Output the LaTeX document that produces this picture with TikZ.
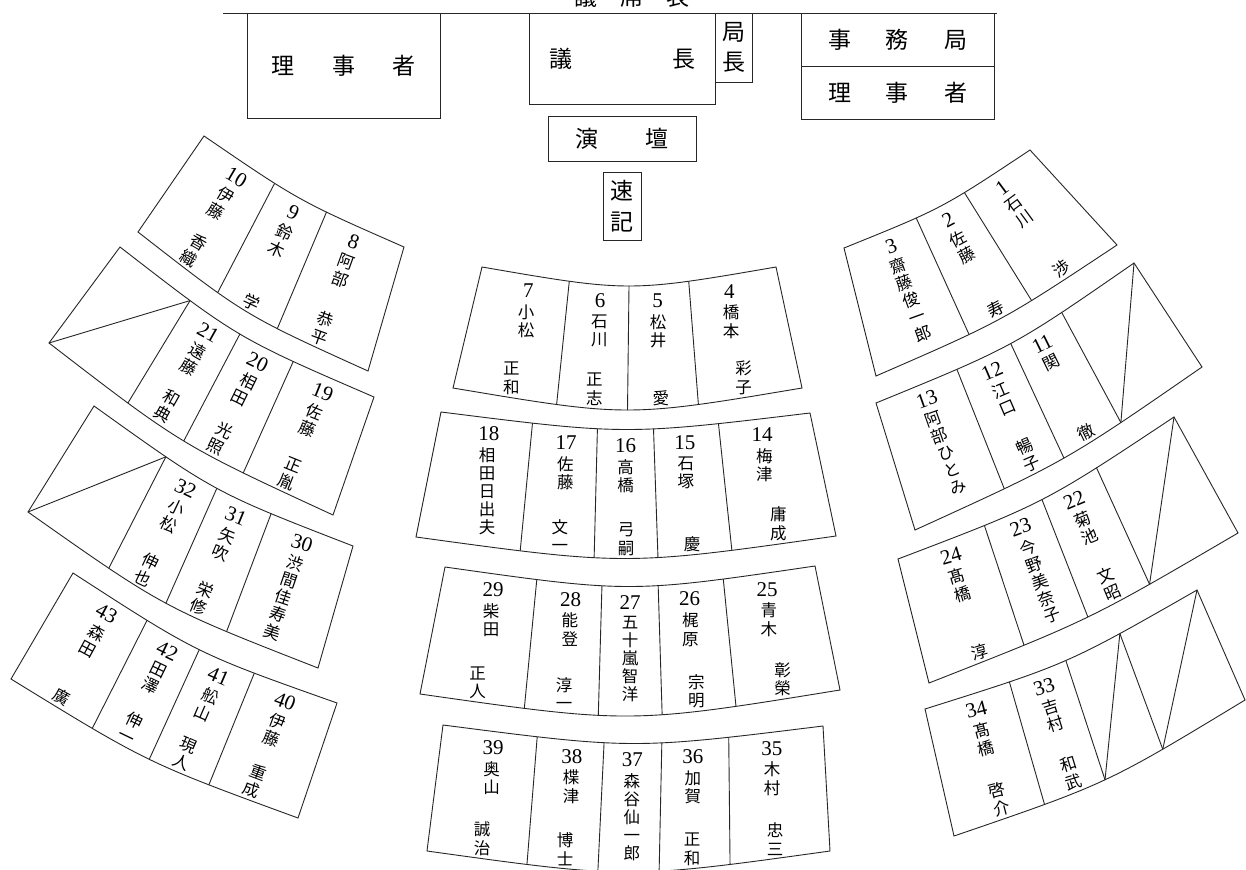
\documentclass[tikz,border=0pt]{standalone}
\usepackage{fontspec}
\newfontfamily\jpfont{Noto Sans CJK JP}
\newfontfamily\numfont{Liberation Serif}
\usetikzlibrary{calc}

\newlength\seatpitch
\setlength\seatpitch{18.5pt}
\def\vstA#1#2\endvst{\hbox to 18pt{\hss#1\hss}\ifx\relax#2\relax\else\vstA#2\endvst\fi}
\newcommand\vst[1]{\vbox{\baselineskip=\seatpitch\lineskiplimit=-100pt\lineskip=0pt\vstA#1\endvst}}

\def\rotfac{1}
\def\numd{16pt}
\def\surd{29.5pt}
\def\givd{3pt}

\tikzset{
  seatline/.style={line width=0.9pt, draw=black!85},
  numtext/.style={inner sep=0pt, font=\numfont\fontsize{21}{21}\selectfont},
  nametext/.style={inner sep=0pt, font=\jpfont\fontsize{16.5}{18}\selectfont},
  hdrbox/.style={draw=black!85, line width=0.9pt, inner sep=0pt, font=\jpfont\fontsize{23}{23}\selectfont},
}

% #1 name, #2 outer-left, #3 outer-right, #4 inner-right, #5 inner-left, #6 outer sag, #7 inner sag, #8 cells
\newcommand\blockrow[8]{%
  \coordinate (#1ol) at #2;
  \coordinate (#1or) at #3;
  \coordinate (#1ir) at #4;
  \coordinate (#1il) at #5;
  \coordinate (#1co) at ($(#1ol)!.5!(#1or)!{1.3333*#6}!-90:(#1or)$);
  \coordinate (#1ci) at ($(#1il)!.5!(#1ir)!{1.3333*#7}!-90:(#1ir)$);
  \draw[seatline] (#1ol) .. controls (#1co) .. (#1or) -- (#1ir) .. controls (#1ci) .. (#1il) -- cycle;
  \foreach \k in {0,...,#8} {
    \pgfmathsetmacro\tpos{\k/#8}
    \path (#1ol) .. controls (#1co) .. (#1or) coordinate[pos=\tpos] (#1o\k);
    \path (#1il) .. controls (#1ci) .. (#1ir) coordinate[pos=\tpos] (#1i\k);
  }
  \foreach \k in {1,...,#8} {
    \pgfmathsetmacro\tpos{(\k-0.5)/#8}
    \path (#1ol) .. controls (#1co) .. (#1or) coordinate[pos=\tpos] (#1T\k);
    \path (#1il) .. controls (#1ci) .. (#1ir) coordinate[pos=\tpos] (#1B\k);
  }
  \pgfmathtruncatemacro\nm{#8-1}
  \foreach \k in {1,...,\nm} { \draw[seatline] (#1o\k) -- (#1i\k); }
}

% block, cell, number, surname, given name
\newcommand\seatname[5]{%
  \path let \p1=($(#1T#2)-(#1B#2)$), \n1={(atan2(\y1,\x1)-90)*\rotfac} in
    node[numtext, rotate=\n1] (n#3) at ($(#1T#2)!\numd!(#1B#2)$) {#3}
    node[nametext, rotate=\n1, anchor=north] (sn#3) at ($(#1T#2)!\surd!(#1B#2)$) {\vst{#4}}
    node[nametext, rotate=\n1, anchor=south] (gn#3) at ($(#1B#2)!\givd!(#1T#2)$) {\vst{#5}};
}
% block, cell, number, full name
\newcommand\seatfull[4]{%
  \path let \p1=($(#1T#2)-(#1B#2)$), \n1={(atan2(\y1,\x1)-90)*\rotfac} in
    node[numtext, rotate=\n1] (n#3) at ($(#1T#2)!\numd!(#1B#2)$) {#3}
    node[nametext, rotate=\n1, anchor=north] (sn#3) at ($(#1T#2)!\surd!(#1B#2)$) {\setlength\seatpitch{18pt}\vst{#4}};
}
\newcommand\blankcell[2]{%
  \pgfmathtruncatemacro\km{#2-1}
  \draw[seatline] (#1o#2) -- (#1i\km);
}

\begin{document}
\begin{tikzpicture}[x=1pt, y=-1pt]
\useasboundingbox[fill=white] (0,0) rectangle (1246,869);

% header
\node[font=\jpfont\fontsize{23}{23}\selectfont, anchor=base, inner sep=0pt] (title) at (632,6) {議\hspace{23pt}席\hspace{23pt}表};
\coordinate (hl1) at (223,13);
\coordinate (hl2) at (997,13);
\draw[seatline] (hl1) -- (hl2);

\node[hdrbox, minimum width=193pt, minimum height=105pt] (rijiL) at (343.5,65.5) {理\hspace{38pt}事\hspace{38pt}者};
\node[hdrbox, minimum width=186pt, minimum height=91pt] (gicho) at (622,58.5) {議\hspace{100pt}長};
\node[hdrbox, minimum width=37pt, minimum height=69pt] (kyoku) at (733.5,47.5) {\setlength\seatpitch{30pt}\vst{局長}};
\node[hdrbox, minimum width=193pt, minimum height=53pt] (jimu) at (897.5,39.5) {事\hspace{35pt}務\hspace{35pt}局};
\node[hdrbox, minimum width=193pt, minimum height=53pt] (rijiR) at (897.5,92.5) {理\hspace{35pt}事\hspace{35pt}者};
\node[hdrbox, minimum width=148pt, minimum height=45pt] (endan) at (622,138.5) {演\hspace{48pt}壇};
\node[hdrbox, minimum width=38pt, minimum height=68pt] (sokki) at (622,206) {\setlength\seatpitch{31pt}\vst{速記}};

% seat blocks
\blockrow{La}{(204,136)}{(404,247)}{(368,371)}{(138,232)}{8pt}{12pt}{3}
\blockrow{Lb}{(120,247)}{(374,397)}{(333,515)}{(49,343)}{14pt}{14pt}{4}
\blockrow{Lc}{(94,406)}{(353,546)}{(318,668)}{(28,512)}{14pt}{15pt}{4}
\blockrow{Ld}{(73,573)}{(337,703)}{(298,818)}{(11,679)}{13pt}{12pt}{4}
\blockrow{Ca}{(482,267)}{(776,267)}{(802,388)}{(453,388)}{19pt}{22pt}{4}
\blockrow{Cb}{(441,412)}{(810,413)}{(836,536)}{(416,537)}{17pt}{22pt}{5}
\blockrow{Cc}{(445,567)}{(815,566)}{(840,690)}{(420,694)}{20pt}{24pt}{5}
\blockrow{Cd}{(443,725)}{(823,726)}{(830,851)}{(427,851)}{18pt}{21pt}{5}
\blockrow{Ra}{(844,248)}{(1030,150)}{(1117,245)}{(876,376)}{8pt}{9pt}{3}
\blockrow{Rb}{(876,403)}{(1134,263)}{(1202,367)}{(915,530)}{12pt}{11pt}{4}
\blockrow{Rc}{(898,559)}{(1174,417)}{(1238,533)}{(929,683)}{13pt}{10pt}{4}
\blockrow{Rd}{(925,709)}{(1197,590)}{(1245,700)}{(954,836)}{12pt}{13pt}{4}

% left blocks
\def\rotfac{1}
\seatname{La}{1}{10}{伊藤}{香織}
\seatname{La}{2}{9}{鈴木}{学}
\seatname{La}{3}{8}{阿部}{恭平}
\blankcell{Lb}{1}
\seatname{Lb}{2}{21}{遠藤}{和典}
\seatname{Lb}{3}{20}{相田}{光照}
\seatname{Lb}{4}{19}{佐藤}{正胤}
\blankcell{Lc}{1}
\seatname{Lc}{2}{32}{小松}{伸也}
\seatname{Lc}{3}{31}{矢吹}{栄修}
\seatfull{Lc}{4}{30}{渋間佳寿美}
\seatname{Ld}{1}{43}{森田}{廣}
\seatname{Ld}{2}{42}{田澤}{伸一}
\seatname{Ld}{3}{41}{舩山}{現人}
\seatname{Ld}{4}{40}{伊藤}{重成}

% right blocks
\seatfull{Ra}{1}{3}{齋藤俊一郎}
\seatname{Ra}{2}{2}{佐藤}{寿}
\seatname{Ra}{3}{1}{石川}{渉}
\seatfull{Rb}{1}{13}{阿部ひとみ}
\seatname{Rb}{2}{12}{江口}{暢子}
\seatname{Rb}{3}{11}{関}{徹}
\blankcell{Rb}{4}
\seatname{Rc}{1}{24}{髙橋}{淳}
\seatfull{Rc}{2}{23}{今野美奈子}
\seatname{Rc}{3}{22}{菊池}{文昭}
\blankcell{Rc}{4}
\seatname{Rd}{1}{34}{髙橋}{啓介}
\seatname{Rd}{2}{33}{吉村}{和武}
\blankcell{Rd}{3}
\blankcell{Rd}{4}

% centre blocks
\def\rotfac{0}
\seatname{Ca}{1}{7}{小松}{正和}
\seatname{Ca}{2}{6}{石川}{正志}
\seatname{Ca}{3}{5}{松井}{愛}
\seatname{Ca}{4}{4}{橋本}{彩子}
\seatfull{Cb}{1}{18}{相田日出夫}
\seatname{Cb}{2}{17}{佐藤}{文一}
\seatname{Cb}{3}{16}{高橋}{弓嗣}
\seatname{Cb}{4}{15}{石塚}{慶}
\seatname{Cb}{5}{14}{梅津}{庸成}
\seatname{Cc}{1}{29}{柴田}{正人}
\seatname{Cc}{2}{28}{能登}{淳一}
\seatfull{Cc}{3}{27}{五十嵐智洋}
\seatname{Cc}{4}{26}{梶原}{宗明}
\seatname{Cc}{5}{25}{青木}{彰榮}
\seatname{Cd}{1}{39}{奥山}{誠治}
\seatname{Cd}{2}{38}{楪津}{博士}
\seatfull{Cd}{3}{37}{森谷仙一郎}
\seatname{Cd}{4}{36}{加賀}{正和}
\seatname{Cd}{5}{35}{木村}{忠三}
\end{tikzpicture}
\end{document}
